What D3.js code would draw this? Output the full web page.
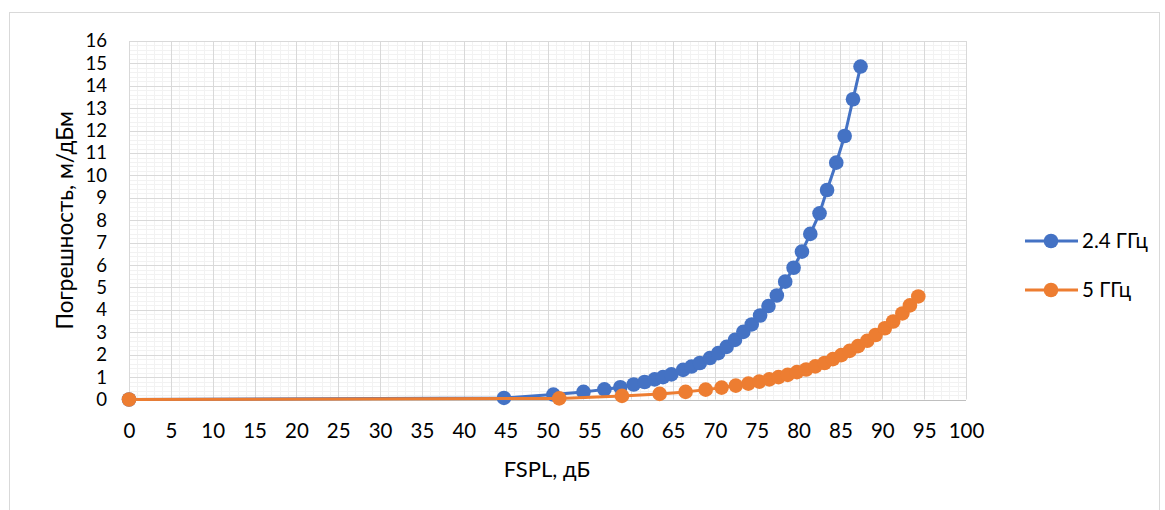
<!DOCTYPE html>
<html>
<head>
<meta charset="utf-8">
<script src="https://cdn.jsdelivr.net/npm/d3@7"></script>
<style>
  html, body { margin: 0; padding: 0; background: #fff; }
  svg { display: block; font-family: Lato, "Open Sans", "DejaVu Sans", sans-serif; }
</style>
</head>
<body>
<svg id="chart" width="1165" height="510"></svg>
<script>
// ---- data ----
const seriesNames = ["2.4 ГГц", "5 ГГц"];
const fspl24 = [0, 44.8, 50.7, 54.3, 56.8, 58.7, 60.3, 61.6, 62.8, 63.8, 64.8, 66.2, 67.2, 68.2, 69.4, 70.4, 71.4, 72.4, 73.4, 74.4, 75.4, 76.4, 77.4, 78.4, 79.4, 80.4, 81.4, 82.5, 83.4, 84.5, 85.5, 86.5, 87.4];
const err24  = [0, 0.07, 0.22, 0.34, 0.45, 0.55, 0.67, 0.78, 0.9, 1.0, 1.12, 1.32, 1.47, 1.63, 1.85, 2.07, 2.35, 2.66, 3.02, 3.35, 3.75, 4.17, 4.64, 5.26, 5.88, 6.6, 7.39, 8.31, 9.35, 10.57, 11.76, 13.4, 14.86];
const fspl5  = [0, 51.4, 58.9, 63.4, 66.5, 68.9, 70.8, 72.5, 74.0, 75.3, 76.5, 77.6, 78.7, 79.8, 80.9, 82.0, 83.1, 84.1, 85.1, 86.1, 87.1, 88.2, 89.2, 90.3, 91.3, 92.4, 93.3, 94.3];
const err5   = [0, 0.05, 0.16, 0.25, 0.34, 0.44, 0.53, 0.62, 0.71, 0.80, 0.90, 1.00, 1.10, 1.22, 1.34, 1.48, 1.63, 1.80, 1.98, 2.17, 2.38, 2.62, 2.88, 3.18, 3.48, 3.84, 4.20, 4.60];
const xTicks = [0, 5, 10, 15, 20, 25, 30, 35, 40, 45, 50, 55, 60, 65, 70, 75, 80, 85, 90, 95, 100];
const yTicks = [0, 1, 2, 3, 4, 5, 6, 7, 8, 9, 10, 11, 12, 13, 14, 15, 16];
const xTitle = "FSPL, дБ";
const yTitle = "Погрешность, м/дБм";

// ---- layout ----
const svg = d3.select("#chart");
const colors = ["#4472C4", "#ED7D31"];
const plot = { left: 129, right: 966, top: 41, bottom: 399.5 };
const x = d3.scaleLinear().domain([0, 100]).range([plot.left, plot.right]);
const y = d3.scaleLinear().domain([0, 16]).range([plot.bottom, plot.top]);
const FONT = "Lato, 'Open Sans', sans-serif";

// chart border
svg.append("rect").attr("x", 9.5).attr("y", 12.5).attr("width", 1150).attr("height", 510)
  .attr("fill", "#fff").attr("stroke", "#D9D9D9").attr("stroke-width", 1);

const g = svg.append("g");

// minor gridlines
const xMinor = d3.range(0, 101, 1).filter(v => v % 5 !== 0);
const yMinor = d3.range(0, 16.001, 0.2).map(v => +v.toFixed(1)).filter(v => Math.abs(v - Math.round(v)) > 1e-6);
g.selectAll(".xminor").data(xMinor).join("line")
  .attr("x1", d => Math.round(x(d)) + 0.5).attr("x2", d => Math.round(x(d)) + 0.5)
  .attr("y1", plot.top).attr("y2", plot.bottom)
  .attr("stroke", "#F2F2F2").attr("stroke-width", 1);
g.selectAll(".yminor").data(yMinor).join("line")
  .attr("x1", plot.left).attr("x2", plot.right)
  .attr("y1", d => Math.round(y(d)) + 0.5).attr("y2", d => Math.round(y(d)) + 0.5)
  .attr("stroke", "#F2F2F2").attr("stroke-width", 1);

// major gridlines
g.selectAll(".xmajor").data(xTicks).join("line")
  .attr("x1", d => Math.round(x(d)) + 0.5).attr("x2", d => Math.round(x(d)) + 0.5)
  .attr("y1", plot.top).attr("y2", plot.bottom)
  .attr("stroke", "#D9D9D9").attr("stroke-width", 1);
g.selectAll(".ymajor").data(yTicks).join("line")
  .attr("x1", plot.left).attr("x2", plot.right)
  .attr("y1", d => Math.round(y(d)) + 0.5).attr("y2", d => Math.round(y(d)) + 0.5)
  .attr("stroke", "#D9D9D9").attr("stroke-width", 1);

// x axis line
g.append("line").attr("x1", plot.left).attr("x2", plot.right)
  .attr("y1", Math.round(y(0)) + 0.5).attr("y2", Math.round(y(0)) + 0.5)
  .attr("stroke", "#BFBFBF").attr("stroke-width", 1);

// axes (labels only) via d3 axis
const xAxis = d3.axisBottom(x).tickValues(xTicks).tickSize(0).tickPadding(24).tickFormat(d3.format("d"));
const xa = svg.append("g").attr("transform", `translate(0,${plot.bottom})`).call(xAxis);
xa.select(".domain").remove();
xa.selectAll("text").attr("font-size", 20.5).attr("fill", "#000").attr("font-family", FONT);

const yAxis = d3.axisLeft(y).tickValues(yTicks).tickSize(0).tickPadding(22).tickFormat(d3.format("d"));
const ya = svg.append("g").attr("transform", `translate(${plot.left},0)`).call(yAxis);
ya.select(".domain").remove();
ya.selectAll("text").attr("font-size", 18.6).attr("fill", "#000").attr("font-family", FONT);

// axis titles
svg.append("text").attr("x", 547).attr("y", 477).attr("text-anchor", "middle")
  .attr("font-size", 22).attr("fill", "#000").attr("font-family", FONT).text(xTitle);
svg.append("text").attr("transform", `translate(73,${(plot.top + plot.bottom) / 2}) rotate(-90)`)
  .attr("text-anchor", "middle").attr("font-size", 22.5).attr("fill", "#000").attr("font-family", FONT).text(yTitle);

// series
const series = [
  fspl24.map((v, i) => [v, err24[i]]),
  fspl5.map((v, i) => [v, err5[i]])
];
const line = d3.line().x(d => x(d[0])).y(d => y(d[1]));
series.forEach((pts, si) => {
  const sg = svg.append("g");
  sg.append("path").datum(pts).attr("d", line).attr("fill", "none")
    .attr("stroke", colors[si]).attr("stroke-width", 3).attr("stroke-linejoin", "round");
  sg.selectAll("circle").data(pts).join("circle")
    .attr("cx", d => x(d[0])).attr("cy", d => y(d[1])).attr("r", 7.3)
    .attr("fill", colors[si]);
});

// legend
const legendY = [241, 290];
seriesNames.forEach((name, i) => {
  const lg = svg.append("g");
  lg.append("line").attr("x1", 1025).attr("x2", 1078).attr("y1", legendY[i]).attr("y2", legendY[i])
    .attr("stroke", colors[i]).attr("stroke-width", 3);
  lg.append("circle").attr("cx", 1051).attr("cy", legendY[i]).attr("r", 7.3).attr("fill", colors[i]);
  lg.append("text").attr("x", 1082).attr("y", legendY[i] + 7).attr("font-size", 20.5)
    .attr("fill", "#000").attr("font-family", FONT).text(name);
});
</script>
</body>
</html>
